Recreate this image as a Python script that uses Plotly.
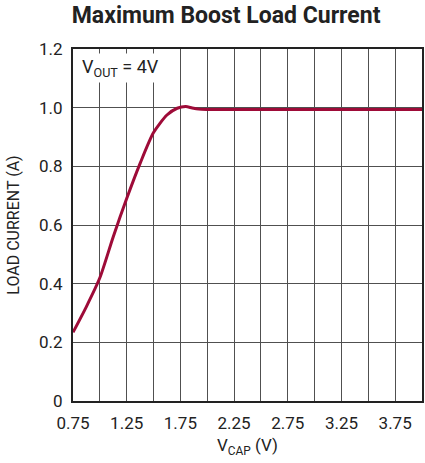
import plotly.graph_objects as go

vcap = [0.75, 0.875, 1.0, 1.125, 1.25, 1.375, 1.5, 1.625, 1.72, 1.8, 1.86, 1.92, 2.0, 2.5, 3.0, 3.5, 4.0]
load_current = [0.234, 0.322, 0.42, 0.56, 0.69, 0.81, 0.915, 0.975, 0.998, 1.004, 0.999, 0.995, 0.994, 0.994, 0.994, 0.994, 0.994]

x_tickvals = [0.75, 1.25, 1.75, 2.25, 2.75, 3.25, 3.75]
x_ticktext = ["0.75", "1.25", "1.75", "2.25", "2.75", "3.25", "3.75"]
x_minor_grid = [1.0, 1.5, 2.0, 2.5, 3.0, 3.5]
y_tickvals = [0, 0.2, 0.4, 0.6, 0.8, 1.0, 1.2]
y_ticktext = ["0", "0.2", "0.4", "0.6", "0.8", "1.0", "1.2"]

FONT = "Roboto, Liberation Sans, sans-serif"
GRID = "#505050"

fig = go.Figure()
fig.add_trace(go.Scatter(x=vcap, y=load_current, mode="lines",
                         line=dict(color="#9E0B38", width=3, shape="spline", smoothing=0.7),
                         hoverinfo="skip", showlegend=False))

fig.update_layout(
    width=425, height=463,
    margin=dict(l=73, r=1, t=49, b=62),
    paper_bgcolor="white", plot_bgcolor="white",
    font=dict(family=FONT, size=17, color="#222"),
    title=dict(text="<b>Maximum Boost Load Current</b>", x=0.532, xanchor="center",
               y=0.985, yanchor="top",
               font=dict(family=FONT, size=23, color="#222")),
    xaxis=dict(range=[0.75, 4.0], tickvals=x_tickvals, ticktext=x_ticktext,
               showgrid=True, gridcolor=GRID, gridwidth=1.3,
               minor=dict(tickvals=x_minor_grid, showgrid=True,
                          gridcolor=GRID, gridwidth=1.3),
               showline=True, linecolor="#222", linewidth=2, mirror=True,
               ticks="outside", ticklen=6, tickcolor="rgba(0,0,0,0)", zeroline=False,
               title=dict(text="V<sub>CAP</sub> (V)", standoff=7,
                          font=dict(family=FONT, size=17))),
    yaxis=dict(range=[0, 1.2], tickvals=y_tickvals, ticktext=y_ticktext,
               showgrid=True, gridcolor=GRID, gridwidth=1.3,
               showline=True, linecolor="#222", linewidth=2, mirror=True,
               ticks="outside", ticklen=5, tickcolor="rgba(0,0,0,0)", zeroline=False,
               title=dict(text="LOAD CURRENT (A)", standoff=15,
                          font=dict(family=FONT, size=16))),
    annotations=[dict(text="V<sub>OUT</sub> = 4V", x=0.0, xref="paper", y=1.0, yref="paper",
                      xanchor="left", yanchor="top", xshift=6, yshift=-4,
                      showarrow=False, bgcolor="white", borderpad=2,
                      font=dict(family=FONT, size=18, color="#222"))],
)

fig.write_html("out.html", config={"displayModeBar": False},
               post_script="document.body.style.margin='0px';")
